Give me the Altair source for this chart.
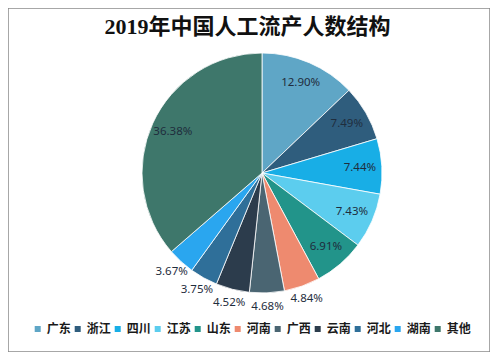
import altair as alt
import pandas as pd

regions = ["广东", "浙江", "四川", "江苏", "山东", "河南", "广西", "云南", "河北", "湖南", "其他"]
shares = [12.90, 7.49, 7.44, 7.43, 6.91, 4.84, 4.68, 4.52, 3.75, 3.67, 36.38]
colors = ["#5fa6c6", "#2f5d7d", "#18aee6", "#5ccdee", "#22948a", "#ee8a6f",
          "#4a6572", "#2c3c4c", "#2f6f99", "#2aa6ef", "#3e776b"]
title_text = "2019年中国人工流产人数结构"

df = pd.DataFrame({"region": regions, "share": shares, "idx": list(range(len(regions)))})

CX, CY, R = 254, 165, 120

base = alt.Chart(df).encode(
    theta=alt.Theta("share:Q", stack=True),
    order=alt.Order("idx:Q", sort="ascending"),
)

pie = base.mark_arc(outerRadius=R, stroke="white", strokeWidth=0.8).encode(
    x=alt.value(CX),
    y=alt.value(CY),
    color=alt.Color(
        "region:N",
        scale=alt.Scale(domain=regions, range=colors),
        sort=regions,
        legend=alt.Legend(
            title=None,
            orient="none",
            legendX=23.7,
            legendY=315,
            direction="horizontal",
            columns=11,
            symbolType="square",
            symbolSize=36,
            symbolStrokeWidth=0,
            labelFont="Noto Sans CJK SC",
            labelFontSize=12,
            labelFontWeight="bold",
            labelColor="#1a1a1a",
            labelOffset=3,
            columnPadding=-4.4,
        ),
    ),
)

inner_labels = base.transform_calculate(
    label="datum.share >= 5 ? format(datum.share, '.2f') + '%' : ''",
).mark_text(fontSize=11.5, font="Noto Sans", color="#1f2d3d", radius=98).encode(
    x=alt.value(CX),
    y=alt.value(CY),
    text="label:N",
)

outer_labels = base.transform_calculate(
    label="datum.share < 5 ? format(datum.share, '.2f') + '%' : ''",
).mark_text(fontSize=11.5, font="Noto Sans", color="#1f2d3d", radius=134).encode(
    x=alt.value(CX),
    y=alt.value(CY),
    text="label:N",
)

title = alt.Chart(pd.DataFrame({"t": [title_text]})).mark_text(
    font="Liberation Serif, Noto Sans CJK SC",
    fontSize=22,
    fontWeight="bold",
    color="#111111",
).encode(text="t:N", x=alt.value(239.5), y=alt.value(18.5))

chart = alt.layer(pie, inner_labels, outer_labels, title).properties(
    width=482,
    height=344,
    autosize=alt.AutoSizeParams(type="none"),
    padding=0,
).configure_view(stroke="#8a8a8a", strokeWidth=1.5)

chart.save("out.html", embed_options={"renderer": "svg", "actions": False})
